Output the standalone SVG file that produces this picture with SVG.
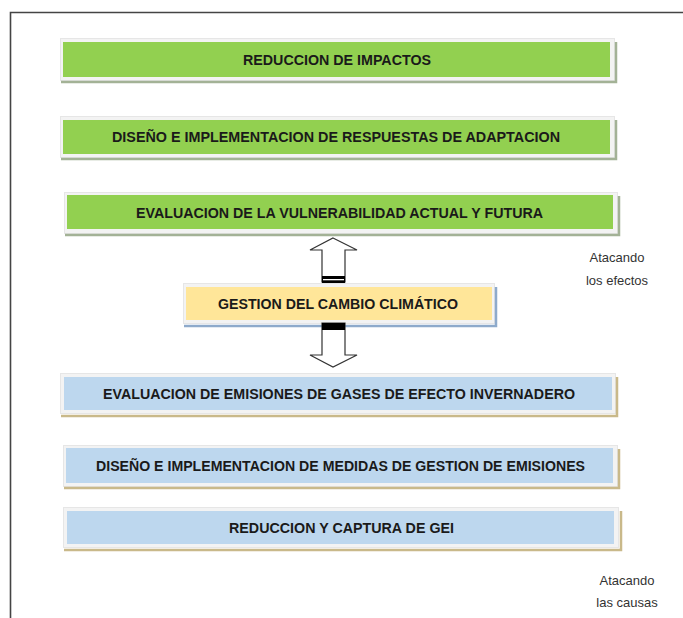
<svg xmlns="http://www.w3.org/2000/svg" width="683" height="618" viewBox="0 0 683 618">
<style>
.outer{fill:#f3f3f3;stroke:#e6e6e6;stroke-width:1}
.g{fill:#92d050}
.y{fill:#ffe699}
.b{fill:#bdd7ee}
.shg{fill:none;stroke:#a3b296;stroke-width:2.5}
.shy{fill:none;stroke:#8eaacb;stroke-width:2.5}
.shb{fill:none;stroke:#c9b98a;stroke-width:2.5}
.t{font-family:"Liberation Sans",Arial,sans-serif;font-weight:bold;font-size:14.5px;fill:#1a1a1a;text-anchor:middle}
.s{font-family:"Liberation Sans",Arial,sans-serif;font-size:13px;fill:#333;text-anchor:middle}
.arr{fill:#fff;stroke:#333;stroke-width:1.2}
</style>
<rect width="683" height="618" fill="#fff"/>
<path d="M10.5,618 V12.5 H683" fill="none" stroke="#444" stroke-width="1.6"/>

<g id="n1">
<rect class="outer" x="60.5" y="38.5" width="554" height="42"/>
<rect class="g" x="63" y="42" width="547" height="35"/>
<path class="shg" d="M61,82 H616 V42"/>
<text class="t" x="337" y="64.5" textLength="188" lengthAdjust="spacingAndGlyphs">REDUCCION DE IMPACTOS</text>
</g>

<g id="n2">
<rect class="outer" x="60.5" y="116.5" width="554" height="41"/>
<rect class="g" x="63" y="120" width="547" height="34"/>
<path class="shg" d="M61,159 H616 V120"/>
<text class="t" x="336" y="141.5" textLength="448" lengthAdjust="spacingAndGlyphs">DISEÑO E IMPLEMENTACION DE RESPUESTAS DE ADAPTACION</text>
</g>

<g id="n3">
<rect class="outer" x="64.5" y="192.5" width="553" height="41"/>
<rect class="g" x="67" y="195" width="546" height="34"/>
<path class="shg" d="M65,235 H619 V196"/>
<text class="t" x="339.5" y="217.5" textLength="407" lengthAdjust="spacingAndGlyphs">EVALUACION DE LA VULNERABILIDAD ACTUAL Y FUTURA</text>
</g>

<g id="n4">
<rect class="outer" x="183.5" y="283.5" width="311" height="40"/>
<rect class="y" x="186" y="287" width="306" height="33"/>
<path class="shy" d="M184,326 H496 V287"/>
<text class="t" x="338" y="308.5" textLength="240" lengthAdjust="spacingAndGlyphs">GESTION DEL CAMBIO CLIMÁTICO</text>
</g>

<g id="n5">
<rect class="outer" x="60.5" y="373.5" width="555" height="40"/>
<rect class="b" x="64" y="377" width="548" height="33"/>
<path class="shb" d="M61,416 H617 V377"/>
<text class="t" x="339" y="398.5" textLength="472" lengthAdjust="spacingAndGlyphs">EVALUACION DE EMISIONES DE GASES DE EFECTO INVERNADERO</text>
</g>

<g id="n6">
<rect class="outer" x="63.5" y="445.5" width="554" height="41"/>
<rect class="b" x="66" y="448" width="547" height="35"/>
<path class="shb" d="M64,488 H619 V449"/>
<text class="t" x="340.5" y="470.5" textLength="489" lengthAdjust="spacingAndGlyphs">DISEÑO E IMPLEMENTACION DE MEDIDAS DE GESTION DE EMISIONES</text>
</g>

<g id="n7">
<rect class="outer" x="63.5" y="507.5" width="555" height="40"/>
<rect class="b" x="67" y="511" width="547" height="33"/>
<path class="shb" d="M64,550 H621 V511"/>
<text class="t" x="341.5" y="532.5" textLength="225" lengthAdjust="spacingAndGlyphs">REDUCCION Y CAPTURA DE GEI</text>
</g>

<g id="connectors">
<polygon class="arr" points="333,238 357,250 345,250 345,282 322,282 322,250 310,250"/>
<rect x="322" y="276" width="23" height="7" fill="#000"/>
<rect x="323" y="279" width="21" height="1.3" fill="#fff"/>
<polygon class="arr" points="322,323 345,323 345,355 357,355 333,367 310,355 322,355"/>
<rect x="322" y="323" width="23" height="7" fill="#000"/>
</g>

<g id="labels">
<text class="s" x="617" y="262">Atacando</text>
<text class="s" x="617" y="285">los efectos</text>
<text class="s" x="627" y="585">Atacando</text>
<text class="s" x="627" y="607">las causas</text>
</g>
</svg>
